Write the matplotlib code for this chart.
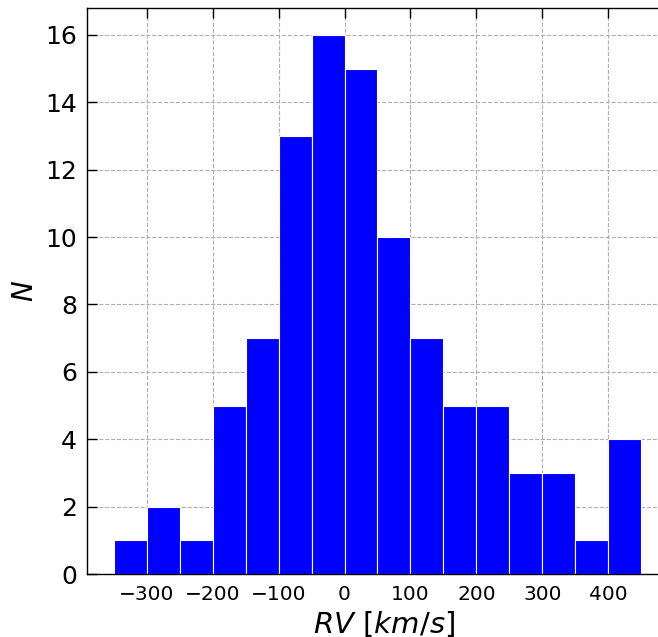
import matplotlib
matplotlib.use("Agg")
import matplotlib.pyplot as plt
import numpy as np

bin_edges = [-350, -300, -250, -200, -150, -100, -50, 0, 50, 100, 150, 200, 250, 300, 350, 400, 450]
counts = [1, 2, 1, 5, 7, 13, 16, 15, 10, 7, 5, 5, 3, 3, 1, 4]
xticks = [-300, -200, -100, 0, 100, 200, 300, 400]
yticks = [0, 2, 4, 6, 8, 10, 12, 14, 16]

fig = plt.figure(figsize=(6.58, 6.37), dpi=100)
ax = fig.add_axes([0.1327, 0.0989, 0.882, 0.8885])
ax.set_axisbelow(True)
ax.grid(True, linestyle='--', color='#b0b0b0', linewidth=0.8)
ax.hist(bin_edges[:-1], bins=bin_edges, weights=counts, color='blue',
        edgecolor='white', linewidth=0.8)
ax.set_xticks(xticks)
ax.set_yticks(yticks)
ax.tick_params(direction='in', top=True, right=True, length=7.5, width=1)
ax.tick_params(axis='x', labelsize=14.5, pad=8)
ax.tick_params(axis='y', labelsize=18, pad=7.5)
ax.set_xlabel(r'$RV\ [km/s]$', fontsize=21)
ax.xaxis.set_label_coords(0.512, -0.061, transform=ax.transAxes)
ax.xaxis.label.set_va('top')
ax.set_ylabel(r'$N$', fontsize=20, labelpad=4)
for s in ax.spines.values():
    s.set_linewidth(1)
fig.savefig('out.png', dpi=100)
